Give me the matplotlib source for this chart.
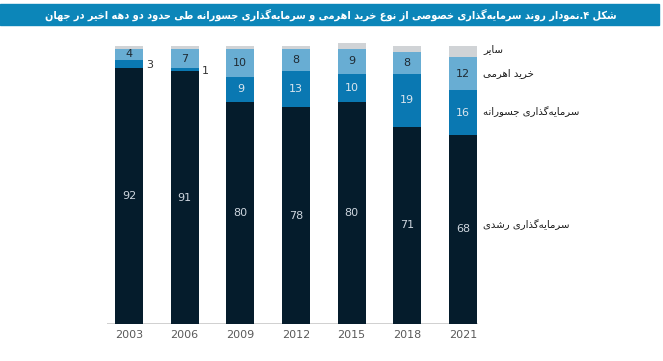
import unicodedata
import matplotlib
matplotlib.use("Agg")
import matplotlib.pyplot as plt
from matplotlib.patches import Rectangle
from matplotlib import font_manager

# ---------------- data ----------------
years = ["2003", "2006", "2009", "2012", "2015", "2018", "2021"]
growth = [92, 91, 80, 78, 80, 71, 68]
venture = [3, 1, 9, 13, 10, 19, 16]
buyout = [4, 7, 10, 8, 9, 8, 12]
other = [1, 1, 1, 1, 2, 2, 4]

series_names = ["سرمایه‌گذاری رشدی", "سرمایه‌گذاری جسورانه", "خرید اهرمی", "سایر"]
title_text = ("شکل ۴.نمودار روند سرمایه‌گذاری خصوصی از نوع خرید اهرمی و سرمایه‌گذاری "
              "جسورانه طی حدود دو دهه اخیر در جهان")

# ---------------- Arabic/Persian shaping helper ----------------
RIGHT_JOIN = set("اآأإدذرزژوؤة")
NON_JOIN = set("ء")


def _is_arabic_letter(c):
    try:
        return unicodedata.name(c).startswith("ARABIC LETTER")
    except ValueError:
        return False


def _jtype(c):
    if c in NON_JOIN or not _is_arabic_letter(c):
        return "U"
    if c in RIGHT_JOIN:
        return "R"
    return "D"


def _form(c, f):
    try:
        return unicodedata.lookup(unicodedata.name(c) + " " + f + " FORM")
    except KeyError:
        if f == "MEDIAL":
            return _form(c, "FINAL")
        if f == "INITIAL":
            return _form(c, "ISOLATED")
        return c


def fa(text):
    chars = list(text)
    out = []
    n = len(chars)
    for i, c in enumerate(chars):
        if c == "\u200c":
            continue
        t = _jtype(c)
        if t == "U":
            out.append(c)
            continue
        prev = chars[i - 1] if i > 0 else None
        nxt = chars[i + 1] if i + 1 < n else None
        jp = prev is not None and _jtype(prev) == "D"
        jn = t == "D" and nxt is not None and _jtype(nxt) in ("D", "R")
        if jp and jn:
            f = "MEDIAL"
        elif jp:
            f = "FINAL"
        elif jn:
            f = "INITIAL"
        else:
            f = "ISOLATED"
        out.append(_form(c, f))
    return "".join(out)[::-1]


# ---------------- figure ----------------
W, H = 663, 361
fig = plt.figure(figsize=(W / 100, H / 100), dpi=100)
plt.rcParams["font.family"] = ["DejaVu Sans"]

# condensed bold face if available
cond_path = None
for f in font_manager.fontManager.ttflist:
    if f.name.startswith("DejaVu Sans") and "Condensed" in f.fname and "Bold" in f.fname \
            and "Oblique" not in f.fname and "Mono" not in f.fname:
        cond_path = f.fname
        break

c_growth = "#051c2c"
c_venture = "#0a78b2"
c_buyout = "#68add3"
c_other = "#d0d3d6"

# title banner
fig.patches.append(Rectangle((0 / W, 1 - 25 / H), 659 / W, 21 / H,
                             transform=fig.transFigure, color="#0c86b9", zorder=0))
tkw = dict(ha="right", va="center", color="white", fontsize=10)
if cond_path:
    tkw["fontproperties"] = font_manager.FontProperties(fname=cond_path, size=10)
else:
    tkw["fontweight"] = "bold"
title = fig.text(617 / W, 1 - 14.5 / H, fa(title_text), **tkw)
renderer = fig.canvas.get_renderer()
tw = title.get_window_extent(renderer).width
title.set_fontsize(10 * 574 / tw)

# axes: baseline at y=324 px, 2.78 px per unit
px_unit = 2.78
y0 = 324
ymax = 105
ax_left, ax_right = 107, 478
ax = fig.add_axes([ax_left / W, (H - y0) / H, (ax_right - ax_left) / W, ymax * px_unit / H])
ax.set_xlim(-0.395, 6.27)
ax.set_ylim(0, ymax)

x = list(range(len(years)))
bw = 0.503
ax.bar(x, growth, width=bw, color=c_growth, zorder=2)
b1 = [g for g in growth]
ax.bar(x, venture, width=bw, bottom=b1, color=c_venture, zorder=2)
b2 = [g + v for g, v in zip(growth, venture)]
ax.bar(x, buyout, width=bw, bottom=b2, color=c_buyout, zorder=2)
b3 = [b + u for b, u in zip(b2, buyout)]
ax.bar(x, other, width=bw, bottom=b3, color=c_other, zorder=2)

for i in x:
    ax.text(i, growth[i] / 2, str(growth[i]), ha="center", va="center",
            color="#cdd5de", fontsize=8)
    if venture[i] >= 5:
        ax.text(i, b1[i] + venture[i] / 2, str(venture[i]), ha="center", va="center",
                color="#dbe6ee", fontsize=8)
    else:
        ax.text(i + bw / 2 + 0.06, b1[i] + venture[i] / 2 - 0.5, str(venture[i]),
                ha="left", va="center", color="#333333", fontsize=8)
    ax.text(i, b2[i] + buyout[i] / 2, str(buyout[i]), ha="center", va="center",
            color="#1f2a33", fontsize=8)

ax.axhline(0, color="#c8c8c8", lw=1.2, zorder=1)
for s in ax.spines.values():
    s.set_visible(False)
ax.set_xticks(x)
ax.set_xticklabels(years, color="#5a5a5a", fontsize=8)
ax.tick_params(axis="x", length=0, pad=4)
ax.set_yticks([])

# series labels on the right
label_y = [225, 112, 73, 49]
for name, yy in zip(series_names, label_y):
    fig.text(483 / W, 1 - yy / H, fa(name), ha="left", va="center",
             color="#1a1a1a", fontsize=7.3)

fig.savefig("out.png", dpi=100)
